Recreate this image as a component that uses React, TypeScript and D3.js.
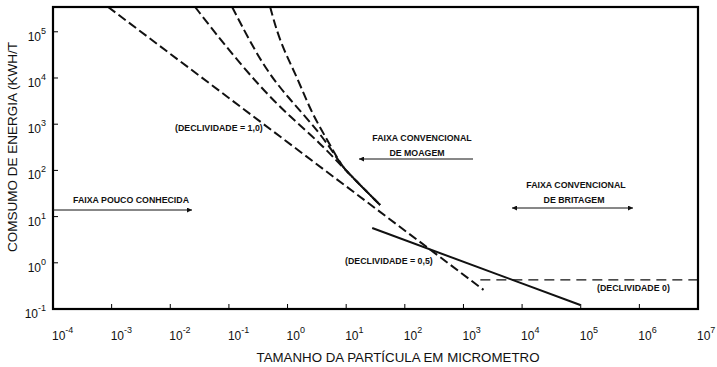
import React from "react";
import * as d3 from "d3";

const W = 717;
const H = 367;

// axis tick exponents
const xTickExps = [-4, -3, -2, -1, 0, 1, 2, 3, 4, 5, 6, 7];
const yTickExps = [-1, 0, 1, 2, 3, 4, 5];

const X_DOMAIN = [1e-4, 1e7];
const Y_DOMAIN = [0.1, 3.44e5];

// slope -1 dashed line (DECLIVIDADE = 1,0)
const slope1X = [8.7e-4, 2200];
const slope1Y = [3.44e5, 0.26];

// three steeper dashed curves converging near 10 µm
const curve2X = [0.0265, 0.0796, 0.34, 1.11, 3.6, 9.6, 38];
const curve2Y = [3.44e5, 5.7e4, 6380, 1430, 392, 102, 17.8];
const curve3X = [0.1135, 0.384, 1.11, 3.6, 7.9, 9.6, 38];
const curve3Y = [3.44e5, 1.73e4, 3340, 646, 145, 102, 17.8];
const curve4X = [0.505, 0.748, 1.46, 2.43, 4.74, 7.9, 9.6, 38];
const curve4Y = [3.44e5, 5.7e4, 1.05e4, 2030, 455, 145, 102, 17.8];

// solid line (DECLIVIDADE = 0,5)
const slopeHalfX = [27.8, 98400];
const slopeHalfY = [5.66, 0.122];

// horizontal dashed line (DECLIVIDADE 0)
const slope0X = [1940, 1e7];
const slope0Y = [0.425, 0.425];

const xTitle = "TAMANHO DA PARTÍCULA EM MICROMETRO";
const yTitle = "COMSUMO DE ENERGIA (KWH/T";

export default function App() {
  const left = 53, right = 698, top = 7, bottom = 309;
  const x = d3.scaleLog().domain(X_DOMAIN).range([left, right]);
  const y = d3.scaleLog().domain(Y_DOMAIN).range([bottom, top]);
  const line = d3
    .line<[number, number]>()
    .x((d) => x(d[0]))
    .y((d) => y(d[1]));
  const curveLine = d3
    .line<[number, number]>()
    .x((d) => x(d[0]))
    .y((d) => y(d[1]))
    .curve(d3.curveBasis);
  const zip = (a: number[], b: number[]) => a.map((v, i) => [v, b[i]] as [number, number]);

  const font = "'Liberation Sans', Arial, sans-serif";
  const ann = { fontFamily: font, fontSize: 8.8, fontWeight: "bold" as const, fill: "#111" };

  return (
    <svg
      width={W}
      height={H}
      style={{ position: "absolute", left: 0, top: 0, background: "#fff" }}
      fontFamily={font}
    >
      <defs>
        <clipPath id="plot">
          <rect x={left} y={top} width={right - left} height={bottom - top} />
        </clipPath>
        <marker id="ah" viewBox="0 0 10 10" refX="10" refY="5" markerWidth="6" markerHeight="5" orient="auto-start-reverse" markerUnits="userSpaceOnUse">
          <path d="M0,0 L10,5 L0,10 z" fill="#111" />
        </marker>
      </defs>
      <rect x={0} y={0} width={W} height={H} fill="#fff" />

      <g clipPath="url(#plot)" fill="none" stroke="#111">
        <path d={line(zip(slope1X, slope1Y)) || ""} strokeWidth={2} strokeDasharray="9,4" />
        <path d={curveLine(zip(curve2X, curve2Y)) || ""} strokeWidth={2} strokeDasharray="9,4" />
        <path d={curveLine(zip(curve3X, curve3Y)) || ""} strokeWidth={2} strokeDasharray="9,4" />
        <path d={curveLine(zip(curve4X, curve4Y)) || ""} strokeWidth={2} strokeDasharray="9,4" />
        <path d={line(zip(slopeHalfX, slopeHalfY)) || ""} strokeWidth={2} />
        <path d={line(zip(slope0X, slope0Y)) || ""} strokeWidth={1.3} strokeDasharray="10,6" />
      </g>

      {/* frame */}
      <rect x={left} y={top} width={right - left} height={bottom - top} fill="none" stroke="#000" strokeWidth={2.2} />

      {/* x ticks */}
      {xTickExps.map((e) => {
        const tx = x(Math.pow(10, e));
        return (
          <g key={"x" + e}>
            <line x1={tx} x2={tx} y1={bottom} y2={bottom - 5} stroke="#000" strokeWidth={1} />
            <text x={tx - 1} y={340} fontSize={12} fill="#111">
              10<tspan dy={-7} fontSize={9}>{e}</tspan>
            </text>
          </g>
        );
      })}

      {/* y ticks */}
      {yTickExps.map((e) => {
        const ty = y(Math.pow(10, e));
        return (
          <g key={"y" + e}>
            <line x1={left} x2={left + 5} y1={ty} y2={ty} stroke="#000" strokeWidth={1} />
            <text x={46} y={ty + 9} fontSize={12} fill="#111" textAnchor="end">
              10<tspan dy={-7} fontSize={9}>{e}</tspan>
            </text>
          </g>
        );
      })}

      {/* axis titles */}
      <text x={398} y={362} fontSize={13.3} textAnchor="middle" fill="#111">
        {xTitle}
      </text>
      <text transform="translate(17,147) rotate(-90)" fontSize={13.5} textAnchor="middle" fill="#111">
        {yTitle}
      </text>

      {/* annotations */}
      <text x={175} y={131} {...ann}>(DECLIVIDADE = 1,0)</text>
      <text x={422} y={141} textAnchor="middle" {...ann}>FAIXA CONVENCIONAL</text>
      <text x={417} y={156} textAnchor="middle" {...ann}>DE MOAGEM</text>
      <line x1={473} y1={159} x2={359} y2={159} stroke="#111" strokeWidth={1} markerEnd="url(#ah)" />

      <text x={576} y={188} textAnchor="middle" {...ann}>FAIXA CONVENCIONAL</text>
      <text x={574} y={203} textAnchor="middle" {...ann}>DE BRITAGEM</text>
      <line x1={512} y1={208} x2={633} y2={208} stroke="#111" strokeWidth={1} markerStart="url(#ah)" markerEnd="url(#ah)" />

      <text x={345} y={264} {...ann}>(DECLIVIDADE = 0,5)</text>
      <text x={597} y={291} {...ann}>(DECLIVIDADE 0)</text>

      <text x={73} y={203} {...ann}>FAIXA POUCO CONHECIDA</text>
      <line x1={left} y1={210} x2={192} y2={210} stroke="#111" strokeWidth={1} markerEnd="url(#ah)" />
    </svg>
  );
}
